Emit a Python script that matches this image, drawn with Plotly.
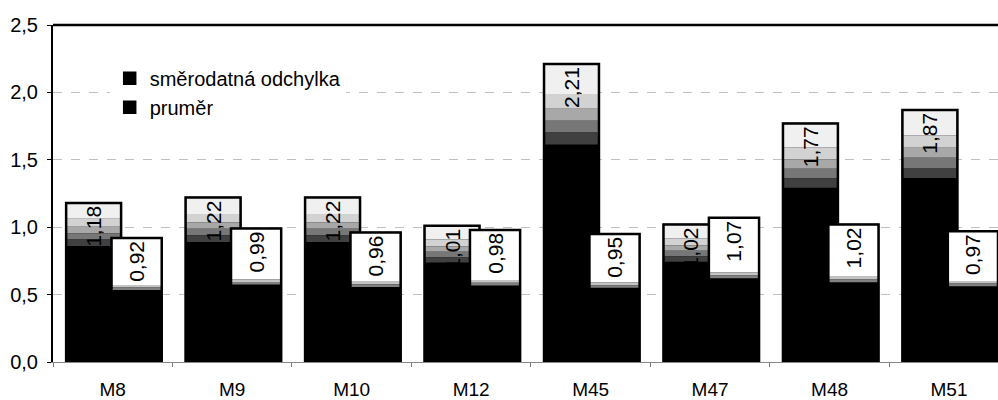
import plotly.graph_objects as go

categories = ["M8", "M9", "M10", "M12", "M45", "M47", "M48", "M51"]
std_values = [1.18, 1.22, 1.22, 1.01, 2.21, 1.02, 1.77, 1.87]
mean_values = [0.92, 0.99, 0.96, 0.98, 0.95, 1.07, 1.02, 0.97]
series_names = ["směrodatná odchylka", "pruměr"]
y_ticks = [0.0, 0.5, 1.0, 1.5, 2.0, 2.5]

FONT = "Liberation Sans, Arial, sans-serif"

# bar geometry (category units)
STD_OFF, STD_W = -0.39, 0.46
MEAN_OFF, MEAN_W = -0.01, 0.42


def fmt(v):
    return f"{v:.2f}".replace(".", ",")


fig = go.Figure()


def add_series(values, name, off, w, bands):
    # solid black body (legend entry)
    fig.add_trace(go.Bar(
        x=categories, y=values, name=name, offset=off, width=w,
        marker=dict(color="black", line=dict(color="black", width=1.5)),
        hoverinfo="skip", showlegend=True,
    ))
    # light shading bands at the top of each bar, sized from the bar's value
    top_frac = 0.0
    for frac, color in bands:
        bases = [v * (1 - top_frac - frac) for v in values]
        heights = [v * frac for v in values]
        fig.add_trace(go.Bar(
            x=categories, y=heights, base=bases, offset=off, width=w,
            marker=dict(color=color, line=dict(width=0)),
            hoverinfo="skip", showlegend=False,
        ))
        top_frac += frac
    # outline + value labels
    fig.add_trace(go.Bar(
        x=categories, y=values, offset=off, width=w,
        marker=dict(color="rgba(0,0,0,0)", line=dict(color="black", width=2.5)),
        text=[fmt(v) for v in values], textposition="inside",
        insidetextanchor="end", textangle=-90, constraintext="none",
        textfont=dict(family=FONT, size=21, color="black"),
        hoverinfo="skip", showlegend=False,
    ))


add_series(std_values, series_names[0], STD_OFF, STD_W,
           [(0.10, "#f0f0f0"), (0.05, "#d2d2d2"), (0.04, "#a8a8a8"),
            (0.04, "#777777"), (0.04, "#404040")])
add_series(mean_values, series_names[1], MEAN_OFF, MEAN_W,
           [(0.38, "#ffffff"), (0.02, "#c4c4c4"), (0.02, "#808080")])

fig.update_layout(
    width=998, height=400,
    margin=dict(l=53, r=0, t=25, b=38),
    barmode="overlay",
    paper_bgcolor="white", plot_bgcolor="white",
    separators=", ",
    font=dict(family=FONT, size=20, color="black"),
    legend=dict(
        x=0.060, y=0.90, xanchor="left", yanchor="top",
        bgcolor="white", borderwidth=0,
        font=dict(family=FONT, size=20, color="black"),
        itemwidth=30, tracegroupgap=0,
    ),
    xaxis=dict(
        type="category", range=[-0.5, 7.41],
        tickson="boundaries", ticks="outside", ticklen=4, tickcolor="#777",
        showline=True, linecolor="#888", linewidth=1,
        showgrid=False, ticklabelstandoff=10,
        tickfont=dict(family=FONT, size=19, color="black"),
    ),
    yaxis=dict(
        range=[0, 2.5], tickvals=y_ticks, tickformat=".1f",
        showline=True, linecolor="black", linewidth=2,
        ticks="outside", ticklen=4, tickcolor="black",
        showgrid=True, gridcolor="#c0c0c0", gridwidth=1, griddash="dash",
        zeroline=False, ticklabelstandoff=5,
        tickfont=dict(family=FONT, size=20, color="black"),
    ),
    shapes=[dict(type="line", xref="paper", yref="paper", x0=0, x1=1, y0=1, y1=1,
                 line=dict(color="black", width=2.5))],
)

fig.write_html("out.html")
